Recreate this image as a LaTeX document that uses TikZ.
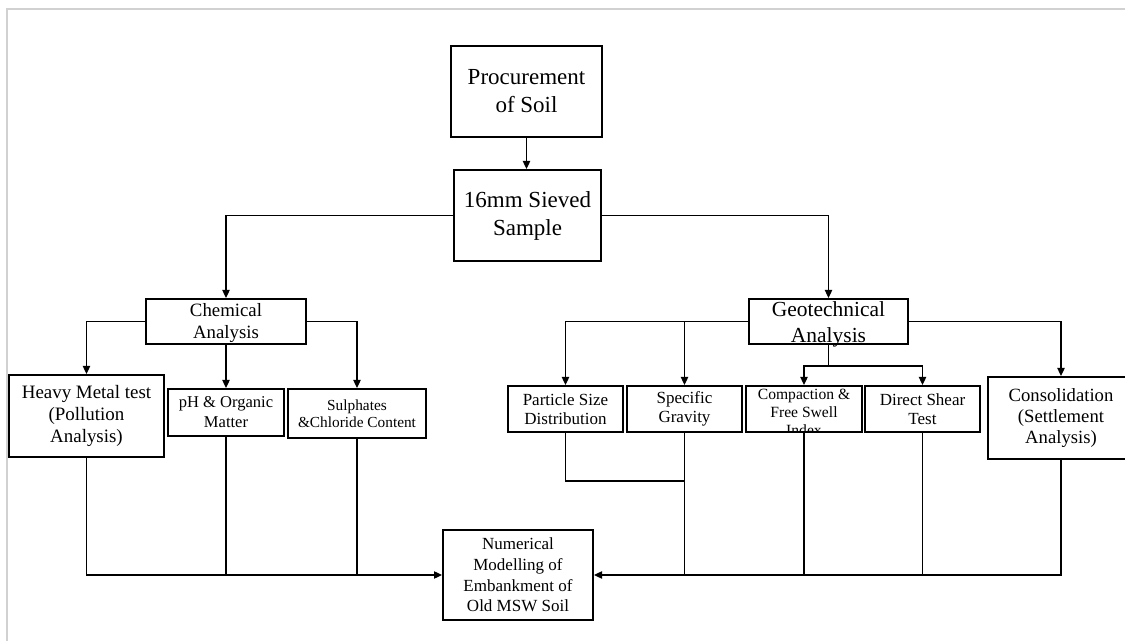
\documentclass[tikz,border=0pt]{standalone}
\usepackage{fontspec}
\setmainfont{Liberation Serif}
\usepackage{tikz}
\usetikzlibrary{arrows.meta}

\begin{document}
\begin{tikzpicture}[x=0.75pt,y=0.75pt,yscale=-1,xscale=1,
    box/.style={draw, line width=1.5pt, inner sep=0pt, align=center},
    boxtext/.style={align=center, inner sep=0pt},
    link/.style={line width=0.9pt},
    arr/.style={line width=0.9pt, -{Triangle[length=6pt,width=5.5pt]}}]
    \useasboundingbox (0,0) rectangle (1125,641);

    % Frame
    \draw [color=black!18, line width=1.5pt] (7,641) -- (7,9) -- (1125,9);

    % Text Node
    \draw (526.5,91.5) node [box, minimum width=113.25pt, minimum height=68.25pt, font=\fontsize{17.25}{21}\selectfont] (proc) {Procurement\\of Soil};
    % Text Node
    \draw (527.5,215.5) node [box, minimum width=110.25pt, minimum height=68.25pt, font=\fontsize{17.25}{21}\selectfont] (sieve) {16mm Sieved\\Sample};
    % Text Node
    \draw (226,321.5) node [box, minimum width=120pt, minimum height=33.75pt,
        label={[boxtext, yshift=-1.5pt, font=\fontsize{14.1}{16.5}\selectfont]center:Chemical\\Analysis}] (chem) {};
    % Text Node
    \draw (828.5,321.5) node [box, minimum width=119.25pt, minimum height=33.75pt,
        label={[boxtext, yshift=-2.5pt, font=\fontsize{16.1}{19.5}\selectfont]center:Geotechnical\\Analysis}] (geo) {};
    % Text Node
    \draw (86.5,416) node [box, minimum width=116.25pt, minimum height=61.5pt, font=\fontsize{14.2}{16.5}\selectfont] (heavy) {Heavy Metal test\\(Pollution\\Analysis)};
    % Text Node
    \draw (226,412.5) node [box, minimum width=87pt, minimum height=35.25pt, font=\fontsize{12.4}{15}\selectfont] (ph) {pH \& Organic\\Matter};
    % Text Node
    \draw (357,413.5) node [box, minimum width=103.5pt, minimum height=36.75pt, font=\fontsize{11.5}{13}\selectfont] (sulph) {Sulphates\\\&Chloride Content};
    % Text Node
    \draw (565.5,409) node [box, minimum width=86.25pt, minimum height=34.5pt, font=\fontsize{12.75}{14.25}\selectfont] (psd) {Particle Size\\Distribution};
    % Text Node
    \draw (684.5,409) node [box, minimum width=86.25pt, minimum height=34.5pt, font=\fontsize{12.75}{14.25}\selectfont] (sg) {Specific\\Gravity};
    % Text Node
    \draw (804,409) node [box, minimum width=87pt, minimum height=34.5pt,
        path picture={\node [boxtext, yshift=-2.5pt, font=\fontsize{11.7}{13.5}\selectfont] at (path picture bounding box.center) {Compaction \&\\Free Swell\\Index};}] (cfs) {};
    % Text Node
    \draw (922.5,409) node [box, minimum width=86.25pt, minimum height=34.5pt, font=\fontsize{12.75}{14.25}\selectfont] (dst) {Direct Shear\\Test};
    % Text Node
    \draw (1061,418) node [box, minimum width=109.5pt, minimum height=61.5pt, font=\fontsize{14}{16}\selectfont] (cons) {Consolidation\\(Settlement\\Analysis)};
    % Text Node
    \draw (518,575) node [box, minimum width=112.5pt, minimum height=67.5pt, font=\fontsize{12.75}{15.4}\selectfont] (num) {Numerical\\Modelling of\\Embankment of\\Old MSW Soil};

    % Connection
    \draw [arr] (proc.south) -- (proc.south |- sieve.north);
    \draw [arr] (sieve.west) -| (chem.north);
    \draw [arr] (sieve.east) -| (geo.north);
    % Connection
    \draw [arr] (chem.west) -| (heavy.north);
    \draw [arr] (chem.south) -- (ph.north);
    \draw [arr] (chem.east) -| (sulph.north);
    % Connection
    \draw [arr] (geo.west) -| (psd.north);
    \draw [arr] (geo.west -| sg.north) -- (sg.north);
    \draw [arr] (geo.east) -| (cons.north);
    \draw [link] (geo.south) -- ++(0,21) coordinate (gsplit);
    \draw [arr] (gsplit) -| (cfs.north);
    \draw [arr] (gsplit) -| (dst.north);
    % Connection
    \draw [arr] (heavy.south) |- (num.west);
    \draw [link] (ph.south) -- (ph.south |- num.west);
    \draw [link] (sulph.south) -- (sulph.south |- num.west);
    % Connection
    \draw [arr] (cons.south) |- (num.east);
    \draw [link] (psd.south) -- ++(0,48) -| (sg.south);
    \draw [link] (sg.south) -- (sg.south |- num.east);
    \draw [link] (cfs.south) -- (cfs.south |- num.east);
    \draw [link] (dst.south) -- (dst.south |- num.east);
\end{tikzpicture}
\end{document}
